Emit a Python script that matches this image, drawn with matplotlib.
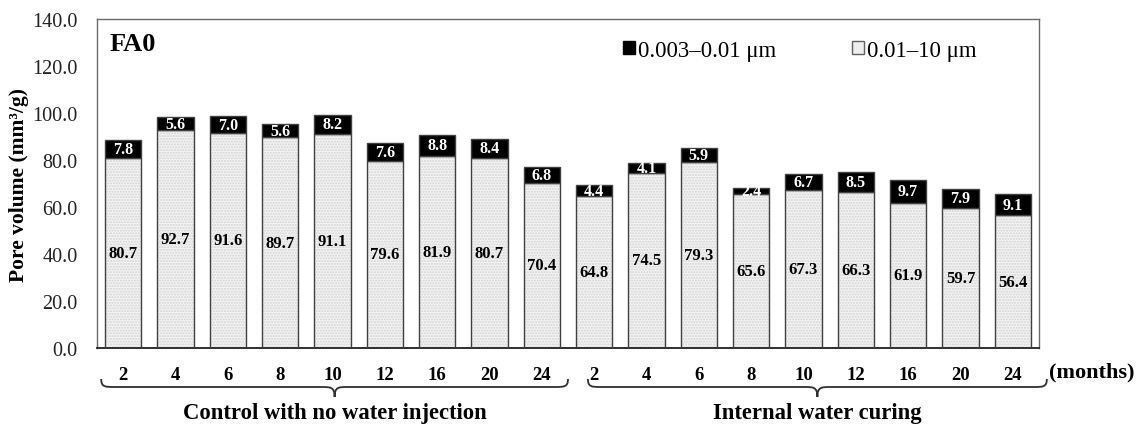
import numpy as np
import matplotlib
matplotlib.use("Agg")
import matplotlib.pyplot as plt
from matplotlib.path import Path
from matplotlib.patches import PathPatch
from matplotlib.transforms import blended_transform_factory

plt.rcParams['font.family'] = ['Liberation Serif', 'DejaVu Serif']

# data
months = ['2', '4', '6', '8', '10', '12', '16', '20', '24']
groups = ['Control with no water injection', 'Internal water curing']
control_coarse = [80.7, 92.7, 91.6, 89.7, 91.1, 79.6, 81.9, 80.7, 70.4]
control_fine = [7.8, 5.6, 7.0, 5.6, 8.2, 7.6, 8.8, 8.4, 6.8]
internal_coarse = [64.8, 74.5, 79.3, 65.6, 67.3, 66.3, 61.9, 59.7, 56.4]
internal_fine = [4.4, 4.1, 5.9, 2.4, 6.7, 8.5, 9.7, 7.9, 9.1]
series_labels = ['0.003\u20130.01 \u03bcm', '0.01\u201310 \u03bcm']

coarse = np.array(control_coarse + internal_coarse)
fine = np.array(control_fine + internal_fine)
x = np.arange(len(coarse))

fig = plt.figure(figsize=(11.42, 4.27), dpi=100)
ax = fig.add_axes([97 / 1142, 1 - 349 / 427, 942 / 1142, 329 / 427])

w = 0.7
# dotted light fill for the lower segment, then outline
ax.bar(x, coarse, w, color='#f4f4f4', hatch='......', edgecolor='#d2d2d2', linewidth=0, zorder=2)
ax.bar(x, coarse, w, color='none', edgecolor='#404040', linewidth=1.0, zorder=3)
ax.bar(x, fine, w, bottom=coarse, color='black', edgecolor='#404040', linewidth=1.0, zorder=3)

# legend handles
h_fine = plt.Rectangle((0, 0), 1, 1, facecolor='black', edgecolor='black')
h_coarse = plt.Rectangle((0, 0), 1, 1, facecolor='#eeeeee', edgecolor='#606060')
ax.legend([h_fine, h_coarse], series_labels, ncol=2, loc='upper left',
          bbox_to_anchor=(0.537, 1.0), frameon=False, fontsize=16.5,
          handlelength=0.5, handleheight=0.5, handletextpad=0.15,
          columnspacing=3.3)

# value labels
for xi, c, f in zip(x, coarse, fine):
    ax.text(xi, c / 2, f'{c:.1f}', ha='center', va='center', fontsize=12,
            fontweight='bold', color='black', zorder=4)
    ax.text(xi, c + f / 2, f'{f:.1f}', ha='center', va='center', fontsize=11.5,
            fontweight='bold', color='white', zorder=4)

ax.set_xlim(-0.5, len(x) - 0.5)
ax.set_ylim(0, 140)
ax.set_yticks(np.arange(0, 141, 20))
ax.set_yticklabels([f'{v:.1f}' for v in np.arange(0, 141, 20)], fontsize=14.5, color='#222222')
ax.set_xticks(x)
ax.set_xticklabels(months * 2, fontsize=13.5, fontweight='bold')
ax.tick_params(axis='y', length=0, pad=14)
ax.tick_params(axis='x', length=0, pad=13)

for s in ['top', 'right', 'left']:
    ax.spines[s].set_color('#6a6a6a')
    ax.spines[s].set_linewidth(1.0)
ax.spines['bottom'].set_color('#202020')
ax.spines['bottom'].set_linewidth(1.3)

ax.set_ylabel('Pore volume (mm\u00b3/g)', fontsize=15.5, fontweight='bold')
ax.yaxis.set_label_coords(-0.072, 0.5)

ax.text(0.013, 0.96, 'FA0', transform=ax.transAxes, fontsize=19, fontweight='bold',
        ha='left', va='top')

fig.text(1049 / 1142, 1 - 372 / 427, '(months)', fontsize=16, fontweight='bold',
         ha='left', va='center')


# curly braces under the groups
def brace(x0, x1, y_top, y_mid, y_tip, k):
    xc = (x0 + x1) / 2
    verts = [(x0, y_top),
             (x0, y_mid), (x0 + k * 0.3, y_mid), (x0 + k, y_mid),
             (xc - k, y_mid),
             (xc - k * 0.3, y_mid), (xc, y_mid), (xc, y_tip),
             (xc, y_mid), (xc + k * 0.3, y_mid), (xc + k, y_mid),
             (x1 - k, y_mid),
             (x1 - k * 0.3, y_mid), (x1, y_mid), (x1, y_top)]
    codes = [Path.MOVETO,
             Path.CURVE4, Path.CURVE4, Path.CURVE4,
             Path.LINETO,
             Path.CURVE4, Path.CURVE4, Path.CURVE4,
             Path.CURVE4, Path.CURVE4, Path.CURVE4,
             Path.LINETO,
             Path.CURVE4, Path.CURVE4, Path.CURVE4]
    return Path(verts, codes)


trans = blended_transform_factory(ax.transData, ax.transAxes)
ah = 329.0
y_top = -(380 - 349) / ah
y_mid = -(388 - 349) / ah
y_tip = -(398 - 349) / ah
spans = [(-0.42, 8.5), (8.88, 17.65)]
for (x0, x1), name in zip(spans, groups):
    p = PathPatch(brace(x0, x1, y_top, y_mid, y_tip, 0.25), transform=trans,
                  facecolor='none', edgecolor='#303030', linewidth=1.3, clip_on=False)
    ax.add_patch(p)
    ax.text((x0 + x1) / 2, -(414 - 349) / ah, name, transform=trans, ha='center',
            va='center', fontsize=16.3, fontweight='bold')

fig.savefig('out.png', dpi=100)
